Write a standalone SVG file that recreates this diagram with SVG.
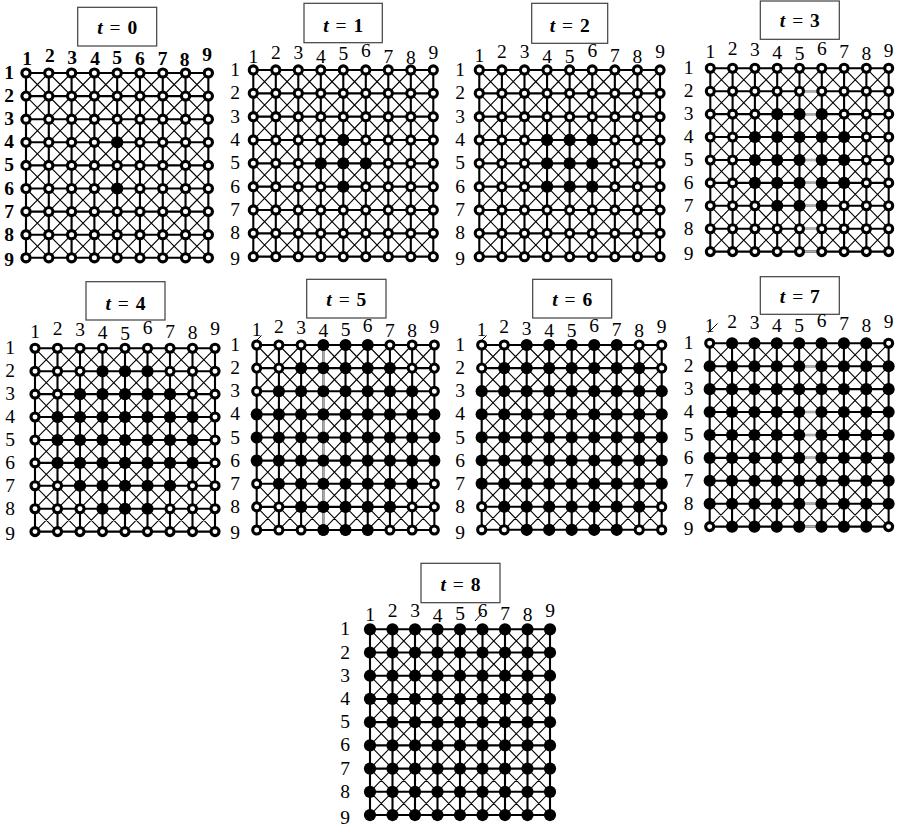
<svg xmlns="http://www.w3.org/2000/svg" xmlns:xlink="http://www.w3.org/1999/xlink" width="902" height="827" viewBox="0 0 902 827">
<style>
.e{fill:none;stroke:#000;stroke-width:2.1}
.dg{fill:none;stroke:#000;stroke-width:1.1}
.gr{fill:none;stroke:#a8a8a8;stroke-width:2.4}
.o{fill:#fff;stroke:#000;stroke-width:3.1}
.f{fill:#000}
.bx{fill:#fff;stroke:#404040;stroke-width:1.2}
.lb{font-family:"Liberation Serif",serif;font-size:19.5px;text-anchor:middle;fill:#000}
.b{font-weight:bold}
.tt{font-family:"Liberation Serif",serif;font-size:19.5px;text-anchor:middle;fill:#000}
.sl{fill:none;stroke:#000;stroke-width:1}
</style>
<defs>
<g id="lines">
<path class="dg" d="M0 0L180 184.8M22.5 0L180 161.7M45 0L180 138.6M67.5 0L180 115.5M90 0L180 92.4M112.5 0L180 69.3M135 0L180 46.2M157.5 0L180 23.1M0 23.1L157.5 184.8M0 46.2L135 184.8M0 69.3L112.5 184.8M0 92.4L90 184.8M0 115.5L67.5 184.8M0 138.6L45 184.8M0 161.7L22.5 184.8M22.5 0L0 23.1M45 0L0 46.2M67.5 0L0 69.3M90 0L0 92.4M112.5 0L0 115.5M135 0L0 138.6M157.5 0L0 161.7M180 0L0 184.8M180 23.1L22.5 184.8M180 46.2L45 184.8M180 69.3L67.5 184.8M180 92.4L90 184.8M180 115.5L112.5 184.8M180 138.6L135 184.8M180 161.7L157.5 184.8"/>
<path class="e" d="M0 0H180M0 23.1H180M0 46.2H180M0 69.3H180M0 92.4H180M0 115.5H180M0 138.6H180M0 161.7H180M0 184.8H180M0 0V184.8M22.5 0V184.8M45 0V184.8M67.5 0V184.8M90 0V184.8M112.5 0V184.8M135 0V184.8M157.5 0V184.8M180 0V184.8"/>
</g>
<g id="rO"><circle class="o" cx="0" cy="0" r="4.05"/><circle class="o" cx="22.5" cy="0" r="4.05"/><circle class="o" cx="45" cy="0" r="4.05"/><circle class="o" cx="67.5" cy="0" r="4.05"/><circle class="o" cx="90" cy="0" r="4.05"/><circle class="o" cx="112.5" cy="0" r="4.05"/><circle class="o" cx="135" cy="0" r="4.05"/><circle class="o" cx="157.5" cy="0" r="4.05"/><circle class="o" cx="180" cy="0" r="4.05"/></g>
<g id="f0"><circle class="f" cx="90" cy="0" r="6.1"/></g>
<g id="f1"><circle class="f" cx="67.5" cy="0" r="6.1"/><use href="#f0"/><circle class="f" cx="112.5" cy="0" r="6.1"/></g>
<g id="f2"><circle class="f" cx="45" cy="0" r="6.1"/><use href="#f1"/><circle class="f" cx="135" cy="0" r="6.1"/></g>
<g id="f3"><circle class="f" cx="22.5" cy="0" r="6.1"/><use href="#f2"/><circle class="f" cx="157.5" cy="0" r="6.1"/></g>
<g id="f4"><circle class="f" cx="0" cy="0" r="6.1"/><use href="#f3"/><circle class="f" cx="180" cy="0" r="6.1"/></g>
<g id="r0"><use href="#rO"/><use href="#f0"/></g>
<g id="r1"><use href="#rO"/><use href="#f1"/></g>
<g id="r2"><use href="#rO"/><use href="#f2"/></g>
<g id="r3"><use href="#rO"/><use href="#f3"/></g>
</defs>
<rect width="902" height="827" fill="#fff"/>

<g id="connectors">
<use href="#lines" transform="translate(26,73) scale(1.013,1)"/>
<use href="#lines" transform="translate(253.3,70) scale(1,1.01)"/>
<use href="#lines" transform="translate(479.3,70) scale(1.004,1.01)"/>
<g transform="translate(710.3,68.3) scale(0.991,0.992)"><use href="#lines"/><path class="gr" d="M92 23.1H110.5M92 46.2H110.5M92 92.4H110.5M92 115.5H110.5M92 138.6H110.5M92 161.7H110.5M92 184.8H110.5"/></g>
<use href="#lines" transform="translate(35,348.3) scale(1,0.992)"/>
<g transform="translate(256.7,345) scale(0.987,1.001)"><use href="#lines"/><path class="gr" d="M67.5 1V183.8" style="stroke-width:2.2"/></g>
<use href="#lines" transform="translate(481.7,345)"/>
<g transform="translate(709.7,343.3) scale(0.994,0.992)"><use href="#lines"/><path class="gr" d="M92 23.1H110.5M92 69.3H110.5M92 92.4H110.5M92 115.5H110.5M92 161.7H110.5M92 184.8H110.5"/></g>
<use href="#lines" transform="translate(370,629.3) scale(1,1.005)"/>
</g>

<g id="panel-t0">
<rect class="bx" x="77.7" y="7.3" width="79" height="38.7"/>
<text class="tt" x="117.2" y="33.5"><tspan font-style="italic" font-weight="bold">t</tspan><tspan dx="2"> = </tspan><tspan dx="2" font-weight="bold">0</tspan></text>
<g class="lb b">
<text x="27" y="65">1</text><text x="49.8" y="62">2</text><text x="72" y="64">3</text><text x="95" y="65">4</text><text x="117.2" y="64">5</text><text x="139.9" y="65">6</text><text x="162.7" y="65">7</text><text x="184.5" y="66">8</text><text x="207" y="61">9</text>
<text x="9" y="79">1</text><text x="9" y="102.1">2</text><text x="9" y="125.2">3</text><text x="9" y="148.3">4</text><text x="9" y="171.4">5</text><text x="9" y="194.5">6</text><text x="9" y="217.6">7</text><text x="9" y="240.7">8</text><text x="9" y="266.3">9</text>
</g>
<g transform="translate(26,73) scale(1.013,1)">
<use href="#rO"/><use href="#rO" y="23.1"/><use href="#rO" y="46.2"/><use href="#r0" y="69.3"/><use href="#rO" y="92.4"/><use href="#r0" y="115.5"/><use href="#rO" y="138.6"/><use href="#rO" y="161.7"/><use href="#rO" y="184.8"/>
</g>
</g>

<g id="panel-t1">
<rect class="bx" x="304" y="3.3" width="78.3" height="39.4"/>
<text class="tt" x="343.2" y="31.5"><tspan font-style="italic" font-weight="bold">t</tspan><tspan dx="2"> = </tspan><tspan dx="2" font-weight="bold">1</tspan></text>
<g class="lb">
<text x="253.3" y="63.3">1</text><text x="275.8" y="59.3">2</text><text x="298.3" y="59.3">3</text><text x="320.8" y="63.3">4</text><text x="343.3" y="60">5</text><text x="365.8" y="57.3">6</text><text x="388.3" y="62.7">7</text><text x="410.8" y="64">8</text><text x="433.3" y="59.3">9</text>
<text x="235" y="76">1</text><text x="235" y="99.3">2</text><text x="235" y="122.7">3</text><text x="235" y="146">4</text><text x="235" y="169.4">5</text><text x="235" y="192.7">6</text><text x="235" y="216">7</text><text x="235" y="239.4">8</text><text x="235" y="265.2">9</text>
</g>
<g transform="translate(253.3,70) scale(1,1.01)">
<use href="#rO"/><use href="#rO" y="23.1"/><use href="#rO" y="46.2"/><use href="#r0" y="69.3"/><use href="#r1" y="92.4"/><use href="#r0" y="115.5"/><use href="#rO" y="138.6"/><use href="#rO" y="161.7"/><use href="#rO" y="184.8"/>
</g>
</g>

<g id="panel-t2">
<rect class="bx" x="531.7" y="3.3" width="76" height="40"/>
<text class="tt" x="569.7" y="31.5"><tspan font-style="italic" font-weight="bold">t</tspan><tspan dx="2"> = </tspan><tspan dx="2" font-weight="bold">2</tspan></text>
<g class="lb">
<text x="479.3" y="61.7">1</text><text x="501.9" y="58.3">2</text><text x="524.5" y="58.3">3</text><text x="547.1" y="62.7">4</text><text x="569.7" y="63.3">5</text><text x="592.3" y="57.3">6</text><text x="614.8" y="61.7">7</text><text x="637.4" y="63.3">8</text><text x="660" y="58.3">9</text>
<text x="460" y="76">1</text><text x="460" y="99.3">2</text><text x="460" y="122.7">3</text><text x="460" y="146">4</text><text x="460" y="169.4">5</text><text x="460" y="192.7">6</text><text x="460" y="216">7</text><text x="460" y="239.4">8</text><text x="460" y="265.2">9</text>
</g>
<g transform="translate(479.3,70) scale(1.004,1.01)">
<use href="#rO"/><use href="#rO" y="23.1"/><use href="#rO" y="46.2"/><use href="#r1" y="69.3"/><use href="#r1" y="92.4"/><use href="#r1" y="115.5"/><use href="#rO" y="138.6"/><use href="#rO" y="161.7"/><use href="#rO" y="184.8"/>
</g>
</g>

<g id="panel-t3">
<rect class="bx" x="760.3" y="1" width="79" height="38.3"/>
<text class="tt" x="799.8" y="27"><tspan font-style="italic" font-weight="bold">t</tspan><tspan dx="2"> = </tspan><tspan dx="2" font-weight="bold">3</tspan></text>
<g class="lb">
<text x="710.3" y="58.3">1</text><text x="732.6" y="55">2</text><text x="754.9" y="56">3</text><text x="777.2" y="59.3">4</text><text x="799.5" y="60">5</text><text x="821.8" y="55">6</text><text x="844.1" y="58.3">7</text><text x="866.4" y="60">8</text><text x="888.7" y="56.7">9</text>
<text x="688.7" y="74.3">1</text><text x="688.7" y="97.2">2</text><text x="688.7" y="120.2">3</text><text x="688.7" y="143.1">4</text><text x="688.7" y="166">5</text><text x="688.7" y="189">6</text><text x="688.7" y="211.9">7</text><text x="688.7" y="234.8">8</text><text x="688.7" y="260.2">9</text>
</g>
<g transform="translate(710.3,68.3) scale(0.991,0.992)">
<use href="#rO"/><use href="#rO" y="23.1"/><use href="#r1" y="46.2"/><use href="#r2" y="69.3"/><use href="#r2" y="92.4"/><use href="#r2" y="115.5"/><use href="#r1" y="138.6"/><use href="#rO" y="161.7"/><use href="#rO" y="184.8"/>
</g>
</g>

<g id="panel-t4">
<rect class="bx" x="86" y="281.7" width="79" height="38.3"/>
<text class="tt" x="125.5" y="309.5"><tspan font-style="italic" font-weight="bold">t</tspan><tspan dx="2"> = </tspan><tspan dx="2" font-weight="bold">4</tspan></text>
<g class="lb">
<text x="35" y="338.3">1</text><text x="57.5" y="335">2</text><text x="80" y="336">3</text><text x="102.5" y="339.3">4</text><text x="125" y="340">5</text><text x="147.5" y="334">6</text><text x="170" y="338.3">7</text><text x="192.5" y="339.3">8</text><text x="215" y="335">9</text>
<text x="10" y="354.3">1</text><text x="10" y="377.2">2</text><text x="10" y="400.2">3</text><text x="10" y="423.1">4</text><text x="10" y="446">5</text><text x="10" y="469">6</text><text x="10" y="491.9">7</text><text x="10" y="514.8">8</text><text x="10" y="540.2">9</text>
</g>
<g transform="translate(35,348.3) scale(1,0.992)">
<use href="#rO"/><use href="#r1" y="23.1"/><use href="#r2" y="46.2"/><use href="#r3" y="69.3"/><use href="#r3" y="92.4"/><use href="#r3" y="115.5"/><use href="#r2" y="138.6"/><use href="#r1" y="161.7"/><use href="#rO" y="184.8"/>
</g>
</g>

<g id="panel-t5">
<rect class="bx" x="306.7" y="279.3" width="79.3" height="38.7"/>
<text class="tt" x="346.3" y="305.5"><tspan font-style="italic" font-weight="bold">t</tspan><tspan dx="2"> = </tspan><tspan dx="2" font-weight="bold">5</tspan></text>
<g class="lb">
<text x="256.7" y="336">1</text><text x="278.9" y="333.3">2</text><text x="301.1" y="334">3</text><text x="323.3" y="337.3">4</text><text x="345.5" y="336">5</text><text x="367.7" y="331.7">6</text><text x="389.9" y="336.7">7</text><text x="412.1" y="337.3">8</text><text x="434.3" y="333.3">9</text>
<text x="235" y="351">1</text><text x="235" y="374.1">2</text><text x="235" y="397.3">3</text><text x="235" y="420.4">4</text><text x="235" y="443.5">5</text><text x="235" y="466.6">6</text><text x="235" y="489.8">7</text><text x="235" y="512.9">8</text><text x="235" y="538.5">9</text>
</g>
<g transform="translate(256.7,345) scale(0.987,1.001)">
<use href="#r1"/><use href="#r2" y="23.1"/><use href="#r3" y="46.2"/><use href="#f4" y="69.3"/><use href="#f4" y="92.4"/><use href="#f4" y="115.5"/><use href="#r3" y="138.6"/><use href="#r2" y="161.7"/><use href="#r1" y="184.8"/>
</g>
</g>

<g id="panel-t6">
<rect class="bx" x="532.7" y="279.3" width="79" height="38.7"/>
<text class="tt" x="572.2" y="305.5"><tspan font-style="italic" font-weight="bold">t</tspan><tspan dx="2"> = </tspan><tspan dx="2" font-weight="bold">6</tspan></text>
<g class="lb">
<text x="481.7" y="336">1</text><text x="504.2" y="333.3">2</text><text x="526.7" y="335">3</text><text x="549.2" y="337.3">4</text><text x="571.7" y="337.3">5</text><text x="594.2" y="331.7">6</text><text x="616.7" y="336">7</text><text x="639.2" y="337.3">8</text><text x="661.7" y="333.3">9</text>
<text x="460" y="351">1</text><text x="460" y="374.1">2</text><text x="460" y="397.3">3</text><text x="460" y="420.4">4</text><text x="460" y="443.5">5</text><text x="460" y="466.6">6</text><text x="460" y="489.8">7</text><text x="460" y="512.9">8</text><text x="460" y="538.5">9</text>
</g>
<g transform="translate(481.7,345)">
<use href="#r2"/><use href="#r3" y="23.1"/><use href="#f4" y="46.2"/><use href="#f4" y="69.3"/><use href="#f4" y="92.4"/><use href="#f4" y="115.5"/><use href="#f4" y="138.6"/><use href="#r3" y="161.7"/><use href="#r2" y="184.8"/>
</g>
</g>

<g id="panel-t7">
<rect class="bx" x="760.3" y="276.7" width="79" height="37.6"/>
<text class="tt" x="799.8" y="303.3"><tspan font-style="italic" font-weight="bold">t</tspan><tspan dx="2"> = </tspan><tspan dx="2" font-weight="bold">7</tspan></text>
<g class="lb">
<text x="709.7" y="331.7">1</text><text x="732.1" y="328.3">2</text><text x="754.5" y="329">3</text><text x="776.8" y="331.7">4</text><text x="799.2" y="331.7">5</text><text x="821.6" y="326.7">6</text><text x="844" y="330">7</text><text x="866.3" y="331.7">8</text><text x="888.7" y="327.7">9</text>
<text x="688.7" y="349.3">1</text><text x="688.7" y="372.2">2</text><text x="688.7" y="395.2">3</text><text x="688.7" y="418.1">4</text><text x="688.7" y="441">5</text><text x="688.7" y="464">6</text><text x="688.7" y="486.9">7</text><text x="688.7" y="509.8">8</text><text x="688.7" y="535.2">9</text>
</g>
<g transform="translate(709.7,343.3) scale(0.994,0.992)">
<use href="#r3"/><use href="#f4" y="23.1"/><use href="#f4" y="46.2"/><use href="#f4" y="69.3"/><use href="#f4" y="92.4"/><use href="#f4" y="115.5"/><use href="#f4" y="138.6"/><use href="#f4" y="161.7"/><use href="#r3" y="184.8"/>
</g>
</g>

<g id="panel-t8">
<rect class="bx" x="421" y="563.3" width="79" height="39.4"/>
<text class="tt" x="460.5" y="591"><tspan font-style="italic" font-weight="bold">t</tspan><tspan dx="2"> = </tspan><tspan dx="2" font-weight="bold">8</tspan></text>
<g class="lb">
<text x="370" y="621">1</text><text x="392.5" y="616.7">2</text><text x="415" y="617.3">3</text><text x="437.5" y="621.7">4</text><text x="460" y="620">5</text><text x="482.5" y="616.7">6</text><text x="505" y="620">7</text><text x="527.5" y="621">8</text><text x="550" y="616.7">9</text>
<text x="345" y="635.3">1</text><text x="345" y="658.5">2</text><text x="345" y="681.7">3</text><text x="345" y="704.9">4</text><text x="345" y="728.1">5</text><text x="345" y="751.4">6</text><text x="345" y="774.6">7</text><text x="345" y="797.8">8</text><text x="345" y="823.5">9</text>
</g>
<g transform="translate(370,629.3) scale(1,1.005)">
<use href="#f4"/><use href="#f4" y="23.1"/><use href="#f4" y="46.2"/><use href="#f4" y="69.3"/><use href="#f4" y="92.4"/><use href="#f4" y="115.5"/><use href="#f4" y="138.6"/><use href="#f4" y="161.7"/><use href="#f4" y="184.8"/>
</g>
</g>

<g id="marks">
<path class="sl" d="M253 344L261.5 335.5M478 344L486.5 335.5M708.5 332.5L717.5 323.5M475 621L482 613"/>
</g>
</svg>
